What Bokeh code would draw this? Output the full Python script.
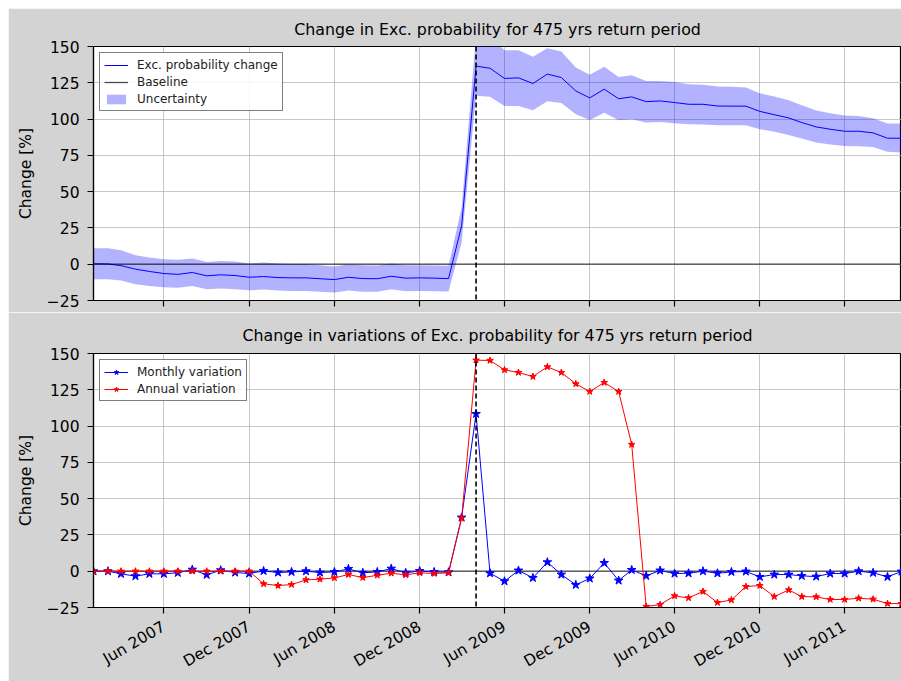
import math
import pandas as pd
from bokeh.plotting import figure
from bokeh.layouts import column
from bokeh.models import Span, FixedTicker, DatetimeTickFormatter, Legend, LegendItem, ColumnDataSource
from bokeh.embed import file_html
from bokeh.resources import INLINE

# ---- data ----
start_month = "2007-01-01"
n_months = 58
event_date = "2009-04-01"
tick_dates = ["2007-06-01", "2007-12-01", "2008-06-01", "2008-12-01", "2009-06-01",
              "2009-12-01", "2010-06-01", "2010-12-01", "2011-06-01"]
y_ticks = [-25, 0, 25, 50, 75, 100, 125, 150]

change = [0.3, 0.2, -1, -3.4, -5, -6.4, -7, -5.7, -8, -7.3, -7.8, -9,
          -8.5, -9.2, -9.4, -9.4, -10, -10.6, -9, -9.9, -10, -8.3, -9.6, -9.4,
          -9.6, -9.9, 26.4, 136.5, 135, 128, 128.4, 124.5, 131, 128.6, 119.4, 114.6,
          120.6, 114, 115.3, 112, 112.5, 111.4, 110.2, 110.2, 109, 108.9, 108.9, 105.3,
          103, 100.8, 97.6, 94.6, 93, 91.6, 91.6, 90.5, 86.8, 86.8]
upper = [11, 11, 9.6, 6.2, 4.6, 3.4, 3, 3.9, 1.6, 2.3, 1.8, 0.5,
         1.1, 0.5, 0.2, 0.2, -0.7, -1.6, 0, -0.7, -0.9, 0.5, -0.7, -0.7,
         -0.9, -1.1, 39, 158, 157, 147.4, 147.4, 142.9, 148.8, 146.5, 135.5, 130.5,
         136, 129, 130.2, 126.3, 126.3, 125.6, 124, 123.6, 122.4, 122.2, 121.8, 117.8,
         115.5, 113, 109.5, 105.9, 104, 102.4, 102.2, 100.6, 96.9, 96.9]
lower = [-10.3, -10.3, -11.3, -13.8, -15, -15.8, -16.3, -15, -17.2, -16.8, -17.2, -17.9,
         -17.5, -18.1, -18.4, -18.4, -19, -19.5, -18.1, -19, -19, -17.2, -18.6, -18.4,
         -18.6, -18.8, 15, 116, 115.3, 109, 109, 106, 112.3, 111, 103.4, 99.4,
         104.3, 99.2, 99.9, 97.6, 98, 97.1, 96.5, 96.2, 95.8, 95.8, 95.8, 93,
         91.2, 89.1, 86.6, 83.8, 82.5, 81.5, 81.3, 80.8, 77.4, 76.9]
baseline = [0] * n_months
monthly = [0, 0, -1.8, -3.4, -1.8, -1.8, -1.1, 1.1, -2.5, 0.7, -0.9, -1.6,
           0.2, -0.9, -0.5, 0, -0.9, -0.5, 1.6, -1.1, -0.5, 1.8, -1.1, 0.2,
           -0.5, -0.7, 37, 108.4, -1.4, -6.9, 0.5, -4.6, 6.2, -2.3, -9.4, -5,
           5.7, -6.4, 0.9, -3.2, 0.5, -1.6, -1.4, 0, -1.4, -0.5, -0.2, -3.9,
           -2.3, -2.3, -3.2, -3.7, -1.6, -1.6, 0, -1.1, -3.9, -0.2]
annual = [0, 0, 0, 0, 0, 0, 0, 0, 0, 0, 0, 0,
          -8.7, -9.9, -9.2, -6, -5.5, -4.6, -2.3, -4.4, -2.8, -1.4, -2.5, -1.1,
          -1.6, -1.1, 36.5, 145.4, 145.2, 138.7, 136.9, 134.1, 140.8, 136.9, 129.1, 123.8,
          130, 123.8, 87.3, -24.3, -23, -17, -18.4, -14, -21.6, -19.8, -10.6, -9.9,
          -17.5, -12.9, -17.5, -17.7, -19.5, -19.5, -18.6, -19.3, -22.3, -22.3]

dates = pd.date_range(start_month, periods=n_months, freq="MS")
src = ColumnDataSource(dict(x=dates, change=change, upper=upper, lower=lower,
                            base=baseline, monthly=monthly, annual=annual))

FONT = "DejaVu Sans"
GREY = "#d3d3d3"
tick_ms = [pd.Timestamp(d).value / 1e6 for d in tick_dates]
event_ms = pd.Timestamp(event_date).value / 1e6


def make_fig(title, height, b_top, b_bottom, show_labels, title_standoff):
    p = figure(width=893, height=height, x_axis_type="datetime",
               x_range=(dates[0], dates[-1]), y_range=(-25, 150),
               output_backend="svg", toolbar_location=None,
               min_border_left=85, min_border_right=0,
               min_border_top=b_top, min_border_bottom=b_bottom,
               title=title)
    p.border_fill_color = GREY
    p.background_fill_color = "white"
    p.outline_line_color = "black"
    p.outline_line_width = 1.2
    p.title.align = "center"
    p.title.text_font = FONT
    p.title.text_font_style = "normal"
    p.title.text_font_size = "15.8px"
    p.title.text_color = "black"
    p.title.standoff = title_standoff
    p.xaxis.ticker = FixedTicker(ticks=tick_ms)
    p.xaxis.formatter = DatetimeTickFormatter(months="%b %Y", days="%b %Y", years="%b %Y")
    p.yaxis.ticker = FixedTicker(ticks=y_ticks)
    p.yaxis.axis_label = "Change [%]"
    for ax in (p.xaxis[0], p.yaxis[0]):
        ax.axis_line_color = "black"
        ax.axis_line_width = 1.2
        ax.major_tick_line_color = "black"
        ax.major_tick_line_width = 1.2
        ax.major_tick_out = 6
        ax.major_tick_in = 0
        ax.minor_tick_line_color = None
        ax.major_label_text_font = FONT
        ax.major_label_text_font_size = "15.5px"
        ax.major_label_text_color = "black"
        ax.axis_label_text_font = FONT
        ax.axis_label_text_font_size = "15.5px"
        ax.axis_label_text_font_style = "normal"
        ax.axis_label_text_color = "black"
    p.yaxis.major_label_standoff = 8
    p.yaxis.axis_label_standoff = 9
    if show_labels:
        p.xaxis.major_label_orientation = math.pi / 6
        p.xaxis.major_label_standoff = 12
    else:
        p.xaxis.major_label_text_font_size = "1px"
        p.xaxis.major_label_text_color = None
        p.xaxis.major_label_standoff = 0
    p.grid.grid_line_color = "#b0b0b0"
    p.grid.grid_line_alpha = 0.7
    p.grid.grid_line_width = 1
    return p


top = make_fig("Change in Exc. probability for 475 yrs return period", 304, 38, 12, False, 16)
r_band = top.varea(x="x", y1="lower", y2="upper", source=src, fill_color="blue", fill_alpha=0.3)
r_line = top.line(x="x", y="change", source=src, line_color="blue", line_width=1)
r_base = top.line(x="x", y="base", source=src, line_color="black", line_alpha=0.7, line_width=1.3)
top.add_layout(Span(location=event_ms, dimension="height", line_color="black",
                    line_dash="5 3", line_width=1.6))
leg1 = Legend(items=[LegendItem(label="Exc. probability change", renderers=[r_line]),
                     LegendItem(label="Baseline", renderers=[r_base]),
                     LegendItem(label="Uncertainty", renderers=[r_band])],
              location="top_left")
top.add_layout(leg1)

bot = make_fig("Change in variations of Exc. probability for 475 yrs return period", 369, 41, 74, True, 17)
bot.line(x="x", y="base", source=src, line_color="black", line_alpha=0.7, line_width=1.3)
r_m = bot.line(x="x", y="monthly", source=src, line_color="blue", line_width=1)
r_ms = bot.scatter(x="x", y="monthly", source=src, marker="star", size=9,
                   fill_color="blue", line_color="blue")
r_a = bot.line(x="x", y="annual", source=src, line_color="red", line_width=1)
r_as = bot.scatter(x="x", y="annual", source=src, marker="star", size=7,
                   fill_color="red", line_color="red")
bot.add_layout(Span(location=event_ms, dimension="height", line_color="black",
                    line_dash="5 3", line_width=1.6))
leg2 = Legend(items=[LegendItem(label="Monthly variation", renderers=[r_m, r_ms]),
                     LegendItem(label="Annual variation", renderers=[r_a, r_as])],
              location="top_left")
bot.add_layout(leg2)

for lg in (leg1, leg2):
    lg.label_text_font = FONT
    lg.label_text_font_size = "12px"
    lg.label_text_color = "#222222"
    lg.border_line_color = "black"
    lg.border_line_width = 1.5
    lg.background_fill_alpha = 0.85
    lg.glyph_width = 24
    lg.glyph_height = 12
    lg.label_height = 15
    lg.spacing = 2
    lg.padding = 4
    lg.margin = 6
    lg.label_standoff = 9

layout = column(top, bot, spacing=0, margin=(8, 0, 0, 8))
open("out.html", "w").write(file_html(layout, INLINE))
